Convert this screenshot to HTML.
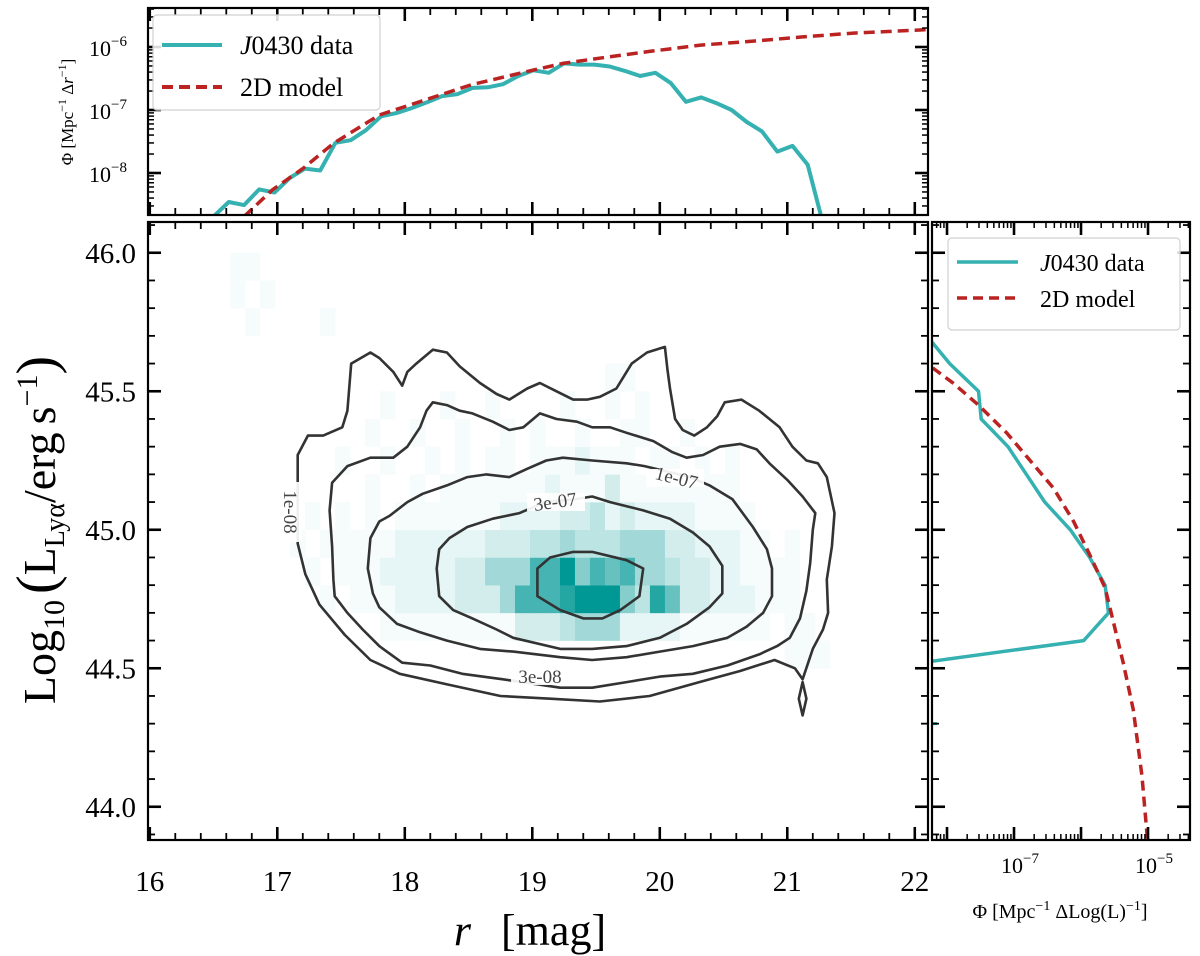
<!DOCTYPE html>
<html><head><meta charset="utf-8">
<style>
html,body{margin:0;padding:0;background:#fff;}
svg{display:block;font-family:"Liberation Serif","DejaVu Serif",serif;}
</style></head>
<body>
<svg id="fig" width="1200" height="956" viewBox="0 0 1200 956" xmlns="http://www.w3.org/2000/svg">
<defs>
<clipPath id="clipMain"><rect x="148" y="222" width="780" height="618"/></clipPath>
<clipPath id="clipTop"><rect x="148" y="8" width="780" height="207"/></clipPath>
<clipPath id="clipRight"><rect x="932" y="222" width="258" height="618"/></clipPath>
</defs>
<g id="heat" clip-path="url(#clipMain)"></g>
<g id="contours" clip-path="url(#clipMain)"></g>
<g id="topLines" clip-path="url(#clipTop)"></g>
<g id="rightLines" clip-path="url(#clipRight)"></g>
<g id="axes"></g>

<g font-size="19" fill="#444">
<text transform="translate(284,512) rotate(90)" text-anchor="middle">1e-08</text>
<text x="540" y="683" text-anchor="middle">3e-08</text>
<text transform="translate(556,508) rotate(-8)" text-anchor="middle">3e-07</text>
<text transform="translate(675,484) rotate(14)" text-anchor="middle">1e-07</text>
</g>

<text x="530" y="945" text-anchor="middle" font-size="44"><tspan font-style="italic">r</tspan><tspan dx="30">[mag]</tspan></text>
<text transform="translate(55,530) rotate(-90)" text-anchor="middle" font-size="46">Log<tspan font-size="30" dy="9">10</tspan><tspan dy="-9" font-size="56" dx="6">(</tspan>L<tspan font-size="28" dy="9">Lyα</tspan><tspan dy="-9">/erg</tspan><tspan dx="8">s</tspan><tspan font-size="30" dy="-18">−1</tspan><tspan dy="18" font-size="56">)</tspan></text>
<text transform="translate(73,112) rotate(-90)" text-anchor="middle" font-size="17">Φ  [Mpc<tspan font-size="12" dy="-7">−1</tspan><tspan dy="7"> Δ</tspan><tspan font-style="italic">r</tspan><tspan font-size="12" dy="-7">−1</tspan><tspan dy="7">]</tspan></text>
<text x="1060" y="918" text-anchor="middle" font-size="20">Φ  [Mpc<tspan font-size="14" dy="-8">−1</tspan><tspan dy="8"> ΔLog(L)</tspan><tspan font-size="14" dy="-8">−1</tspan><tspan dy="8">]</tspan></text>

<g>
<rect x="153" y="15" width="227" height="95" rx="4" fill="#fff" fill-opacity="0.85" stroke="#d0d0d0" stroke-width="1.2"/>
<line x1="162" y1="45" x2="222" y2="45" stroke="#35b1b1" stroke-width="4"/>
<text x="240" y="54" font-size="26"><tspan font-style="italic">J</tspan>0430 data</text>
<line x1="162" y1="87" x2="222" y2="87" stroke="#bb2222" stroke-width="4" stroke-dasharray="11,6"/>
<text x="240" y="96" font-size="26">2D model</text>
</g>
<g>
<rect x="948" y="238" width="232" height="92" rx="4" fill="#fff" fill-opacity="0.85" stroke="#d0d0d0" stroke-width="1.2"/>
<line x1="957" y1="262" x2="1018" y2="262" stroke="#35b1b1" stroke-width="3.5"/>
<text x="1040" y="271" font-size="24"><tspan font-style="italic">J</tspan>0430 data</text>
<line x1="957" y1="298" x2="1018" y2="298" stroke="#bb2222" stroke-width="3.5" stroke-dasharray="10,6"/>
<text x="1040" y="307" font-size="24">2D model</text>
</g>

<script>
const topDataR0 = 16.5, topDataStep = 0.1195;
const topDataLogPhi = [-8.69,-8.46,-8.51,-8.26,-8.31,-8.08,-7.93,-7.96,-7.52,-7.48,-7.32,-7.10,-7.05,-6.97,-6.88,-6.78,-6.75,-6.65,-6.64,-6.59,-6.46,-6.37,-6.41,-6.26,-6.28,-6.28,-6.31,-6.38,-6.46,-6.41,-6.57,-6.87,-6.80,-6.89,-7.00,-7.19,-7.34,-7.66,-7.57,-7.87,-8.80];
const topModelR = [16.74,16.96,17.20,17.44,17.80,18.16,18.52,19.00,19.24,19.52,19.92,20.32,20.72,21.12,21.52,22.04,22.2];
const topModelLogPhi = [-8.69,-8.27,-7.93,-7.53,-7.08,-6.84,-6.60,-6.37,-6.26,-6.18,-6.07,-5.97,-5.91,-5.84,-5.78,-5.73,-5.71];
const rightDataL = [45.7,45.6,45.5,45.4,45.3,45.1,45.0,44.9,44.8,44.7,44.6,44.5];
const rightDataLogPhi = [-8.30,-7.96,-7.53,-7.49,-7.09,-6.54,-6.16,-5.87,-5.64,-5.59,-5.96,-9.0];
const rightStubL = 44.3, rightStubLogPhi = -8.15;
const rightModelL = [45.62,45.58,45.53,45.45,45.35,45.25,45.15,45.03,44.91,44.79,44.67,44.52,44.35,44.11,43.83];
const rightModelLogPhi = [-8.4,-8.19,-7.91,-7.53,-7.11,-6.76,-6.41,-6.11,-5.87,-5.64,-5.52,-5.37,-5.22,-5.09,-4.99];
const heatR0 = 16.630, heatRStep = 0.1176;
const heatL0 = 44.5, heatLStep = 0.1;
const heatRows = [
 [0,0,0,0,0,0,0,0,0,0, 0,0,0,0,0,0,0,0,0,0,0,0,0,0,0,0,0,0,0,0,0,0,0,0,0,0,0,1,1,1,0],
 [0,0,0,0,0,0,0,0,0,0, 1,1,1,1,1,1,1,1,1,3,3,3,4,5,5,5,2,2,2,2,1,1,1,1,1,1,0,1,1,0,0],
 [0,0,0,0,0,0,1,0,1,1, 1,2,2,2,2,3,3,3,5,8,8,8,9,10,10,10,6,4,9,7,3,3,2,2,2,1,1,1,0,0,0],
 [0,0,0,0,0,1,0,1,1,1, 2,2,2,2,2,3,3,5,5,5,8,8,10,6,8,7,8,5,5,4,3,3,2,2,1,1,1,1,0,0,0],
 [0,0,0,0,1,0,1,1,1,1, 1,2,2,2,2,2,2,3,3,3,4,4,5,4,4,4,5,5,5,3,3,2,2,2,1,1,0,1,0,0,0],
 [0,0,0,0,0,1,0,1,0,1, 0,1,1,1,1,1,1,1,2,2,2,2,3,3,4,2,3,2,2,2,2,1,1,1,1,0,0,0,0,0,0],
 [0,0,0,0,0,0,0,0,0,1, 0,0,1,0,1,1,1,1,1,1,1,2,1,1,1,3,1,1,1,1,1,1,1,1,0,0,0,0,0,0,0],
 [0,0,0,0,0,0,0,1,0,0, 1,0,0,1,0,1,0,1,1,0,1,1,1,2,1,1,1,0,1,1,0,1,0,1,0,0,0,0,0,0,0],
 [0,0,0,0,0,0,0,0,0,1, 0,0,1,0,0,1,0,0,1,0,1,0,0,1,0,0,1,1,0,0,1,0,0,0,0,0,0,0,0,0,0],
 [0,0,0,0,0,0,0,0,0,0, 1,0,0,0,1,0,0,1,0,0,0,0,1,0,0,1,0,1,0,0,0,0,0,0,0,0,0,0,0,0,0],
 [0,0,0,0,0,0,0,0,0,0, 0,0,0,0,0,0,0,0,0,0,0,0,0,0,0,1,1,0,0,0,0,0,0,0,0,0,0,0,0,0,0],
 [0,0,0,0,0,0,0,0,0,0, 0,0,0,0,0,0,0,0,0,0,0,0,0,0,0,0,0,0,0,0,0,0,0,0,0,0,0,0,0,0,0],
 [0,1,0,0,0,0,1,0,0,0, 0,0,0,0,0,0,0,0,0,0,0,0,0,0,0,0,0,0,0,0,0,0,0,0,0,0,0,0,0,0,0],
 [1,0,1,0,0,0,0,0,0,0, 0,0,0,0,0,0,0,0,0,0,0,0,0,0,0,0,0,0,0,0,0,0,0,0,0,0,0,0,0,0,0],
 [1,1,0,0,0,0,0,0,0,0, 0,0,0,0,0,0,0,0,0,0,0,0,0,0,0,0,0,0,0,0,0,0,0,0,0,0,0,0,0,0,0]
];
const contour1e08 = [[17.16,44.96],[17.16,45.17],[17.16,45.27],[17.24,45.34],[17.36,45.34],[17.51,45.37],[17.55,45.43],[17.58,45.60],[17.73,45.64],[17.80,45.62],[17.91,45.57],[17.98,45.52],[18.02,45.57],[18.09,45.60],[18.22,45.65],[18.33,45.64],[18.43,45.59],[18.59,45.53],[18.72,45.49],[18.82,45.47],[18.96,45.51],[19.06,45.53],[19.19,45.50],[19.32,45.47],[19.43,45.47],[19.53,45.48],[19.66,45.51],[19.78,45.60],[19.90,45.64],[20.04,45.66],[20.06,45.58],[20.08,45.51],[20.12,45.40],[20.18,45.36],[20.27,45.34],[20.37,45.37],[20.45,45.41],[20.51,45.46],[20.64,45.47],[20.78,45.43],[20.94,45.37],[21.04,45.30],[21.15,45.25],[21.24,45.24],[21.31,45.19],[21.37,45.06],[21.35,44.94],[21.31,44.82],[21.32,44.70],[21.28,44.64],[21.20,44.57],[21.12,44.46],[21.06,44.50],[20.90,44.53],[20.63,44.49],[20.31,44.45],[19.92,44.40],[19.53,44.38],[19.14,44.39],[18.75,44.40],[18.35,44.44],[17.96,44.48],[17.73,44.53],[17.53,44.62],[17.33,44.73],[17.22,44.84],[17.16,44.95]];
const contour3e08 = [[17.43,45.17],[17.55,45.23],[17.73,45.26],[17.91,45.26],[18.02,45.30],[18.12,45.37],[18.17,45.43],[18.22,45.46],[18.33,45.45],[18.43,45.43],[18.53,45.42],[18.69,45.39],[18.82,45.36],[18.93,45.37],[19.06,45.42],[19.19,45.40],[19.35,45.39],[19.47,45.37],[19.61,45.37],[19.74,45.35],[19.95,45.32],[20.10,45.28],[20.21,45.26],[20.34,45.27],[20.47,45.30],[20.63,45.31],[20.76,45.29],[20.86,45.24],[21.00,45.18],[21.12,45.12],[21.22,45.06],[21.20,45.00],[21.18,44.88],[21.15,44.78],[21.10,44.68],[21.02,44.61],[20.92,44.58],[20.78,44.55],[20.53,44.51],[20.26,44.48],[20.00,44.47],[19.74,44.45],[19.47,44.43],[19.22,44.43],[18.77,44.46],[18.45,44.48],[18.20,44.51],[17.98,44.52],[17.80,44.58],[17.67,44.64],[17.55,44.70],[17.45,44.76],[17.44,44.82],[17.43,44.94],[17.41,45.07],[17.43,45.17]];
const contour1e07 = [[17.71,44.86],[17.73,44.97],[17.80,45.03],[17.88,45.05],[18.02,45.10],[18.14,45.13],[18.33,45.16],[18.49,45.19],[18.64,45.20],[18.82,45.19],[18.96,45.22],[19.11,45.25],[19.24,45.26],[19.47,45.25],[19.74,45.24],[19.88,45.23],[20.24,45.19],[20.39,45.16],[20.57,45.11],[20.73,45.01],[20.84,44.93],[20.88,44.86],[20.88,44.76],[20.81,44.70],[20.68,44.65],[20.53,44.61],[20.26,44.58],[20.00,44.56],[19.74,44.54],[19.47,44.53],[19.22,44.54],[18.85,44.56],[18.59,44.57],[18.33,44.60],[18.12,44.63],[17.94,44.66],[17.80,44.72],[17.75,44.77],[17.71,44.86]];
const contour3e07 = [[18.25,44.86],[18.27,44.93],[18.35,44.97],[18.49,45.01],[18.69,45.04],[18.90,45.06],[19.10,45.10],[19.33,45.11],[19.47,45.12],[19.61,45.10],[19.87,45.07],[20.08,45.04],[20.26,44.99],[20.39,44.94],[20.49,44.87],[20.49,44.77],[20.39,44.72],[20.21,44.66],[20.00,44.61],[19.74,44.58],[19.47,44.57],[19.22,44.57],[18.85,44.61],[18.72,44.64],[18.53,44.68],[18.38,44.71],[18.27,44.76],[18.25,44.86]];
const contour1e06 = [[19.04,44.86],[19.14,44.90],[19.32,44.92],[19.47,44.92],[19.74,44.89],[19.87,44.86],[19.84,44.76],[19.69,44.71],[19.55,44.68],[19.40,44.68],[19.22,44.71],[19.04,44.76],[19.04,44.86]];
const contourDrip = [[21.12,44.45],[21.15,44.39],[21.12,44.33],[21.09,44.39],[21.12,44.45]];
const mainXTicks = [16,17,18,19,20,21,22];
const mainYTicks = [44.0,44.5,45.0,45.5,46.0];
const topYDecades = [-8,-7,-6];
const rightXLabels = [-7,-5];

const X = r => 148 + (r - 15.986) * 127.5;
const Ym = L => 840 - (L - 43.88) * 277;
const Yt = lp => 8 + (-5.381 - lp) * 63;
const Xr = lp => 932 + (lp + 8.224) * 67;
const NS = 'http://www.w3.org/2000/svg';
function mk(tag, attrs, parent) {
  const e = document.createElementNS(NS, tag);
  for (const k in attrs) e.setAttribute(k, attrs[k]);
  parent.appendChild(e);
  return e;
}
function powLabel(t, d) {
  const a = mk('tspan', {}, t); a.textContent = '10';
  const b = mk('tspan', {'font-size': 15, dy: -10}, t); b.textContent = '\u2212' + Math.abs(d);
}

const heat = document.getElementById('heat');
heatRows.forEach((row, i) => {
  row.forEach((v, k) => {
    if (!v) return;
    const t = Math.pow(v / 10, 1.45);
    const c = `rgb(${Math.round(255 - t * 255)},${Math.round(255 - t * 103)},${Math.round(255 - t * 107)})`;
    const x0 = X(heatR0 + k * heatRStep), x1 = X(heatR0 + (k + 1) * heatRStep);
    const y0 = Ym(heatL0 + (i + 1) * heatLStep), y1 = Ym(heatL0 + i * heatLStep);
    const r = mk('rect', {x: x0, y: y0, width: x1 - x0 + 0.3, height: y1 - y0 + 0.3, fill: c}, heat);
    
    
  });
});

const cg = document.getElementById('contours');
[['contour-1e-08', contour1e08], ['contour-3e-08', contour3e08], ['contour-1e-07', contour1e07], ['contour-3e-07', contour3e07], ['contour-1e-06', contour1e06], ['contour-1e-08-island', contourDrip]].forEach(([n, pts]) => {
  const d = pts.map((p, i) => (i ? 'L' : 'M') + X(p[0]).toFixed(1) + ',' + Ym(p[1]).toFixed(1)).join('') + 'Z';
  const p = mk('path', {d: d, fill: 'none', stroke: '#333', 'stroke-width': 2.6, 'stroke-linejoin': 'round'}, cg);
  
  
});
[[291,512,22,60],[540,676,58,18],[556,502,58,18],[675,478,58,18]].forEach(b => {
  const r = mk('rect', {x: b[0] - b[2] / 2, y: b[1] - b[3] / 2, width: b[2], height: b[3], fill: 'rgba(255,255,255,0.92)'}, cg);
  
  
});

const tg = document.getElementById('topLines');
const topD = topDataLogPhi.map((v, i) => (i ? 'L' : 'M') + X(topDataR0 + i * topDataStep).toFixed(1) + ',' + Yt(v).toFixed(1)).join('');
const tl = mk('path', {d: topD, fill: 'none', stroke: '#35b1b1', 'stroke-width': 4, 'stroke-linejoin': 'round'}, tg);


const topM = topModelLogPhi.map((v, i) => (i ? 'L' : 'M') + X(topModelR[i]).toFixed(1) + ',' + Yt(v).toFixed(1)).join('');
const tm = mk('path', {d: topM, fill: 'none', stroke: '#bb2222', 'stroke-width': 3.5, 'stroke-dasharray': '11,6'}, tg);



const rg = document.getElementById('rightLines');
const rD = rightDataLogPhi.map((v, i) => (i ? 'L' : 'M') + Xr(v).toFixed(1) + ',' + Ym(rightDataL[i]).toFixed(1)).join('');
const rl = mk('path', {d: rD, fill: 'none', stroke: '#35b1b1', 'stroke-width': 3.5, 'stroke-linejoin': 'round'}, rg);


const stub = mk('line', {x1: Xr(rightStubLogPhi - 0.3), y1: Ym(rightStubL), x2: Xr(rightStubLogPhi), y2: Ym(rightStubL), stroke: '#35b1b1', 'stroke-width': 3}, rg);


const rM = rightModelLogPhi.map((v, i) => (i ? 'L' : 'M') + Xr(v).toFixed(1) + ',' + Ym(rightModelL[i]).toFixed(1)).join('');
const rm = mk('path', {d: rM, fill: 'none', stroke: '#bb2222', 'stroke-width': 3.5, 'stroke-dasharray': '10,6'}, rg);



const ax = document.getElementById('axes');
function frame(x, y, w, h, name) {
  const r = mk('rect', {x: x, y: y, width: w, height: h, fill: 'none', stroke: '#000', 'stroke-width': 2.2}, ax);
  
  
}
frame(148, 222, 780, 618, 'main-frame');
frame(148, 8, 780, 207, 'top-frame');
frame(932, 222, 258, 618, 'right-frame');
function tick(x1, y1, x2, y2, w) {
  const l = mk('line', {x1: x1, y1: y1, x2: x2, y2: y2, stroke: '#000', 'stroke-width': w}, ax);
  
  
}
for (let i = 80; i <= 110; i++) {
  const r = i / 5;
  const major = i % 5 === 0;
  const L = major ? 13 : 7, w = major ? 2.6 : 1.8, x = X(r);
  tick(x, 840, x, 840 - L, w); tick(x, 222, x, 222 + L, w);
  tick(x, 215, x, 215 - L, w); tick(x, 8, x, 8 + L, w);
}
mainXTicks.forEach(v => {
  const t = mk('text', {x: X(v), y: 891, 'text-anchor': 'middle', 'font-size': 29}, ax);
  t.textContent = v;
  
  
});
for (let i = 439; i <= 461; i++) {
  const L = i / 10;
  const major = i % 5 === 0;
  const len = major ? 13 : 7, w = major ? 2.6 : 1.8, y = Ym(L);
  tick(148, y, 148 + len, y, w); tick(928, y, 928 - len, y, w);
  tick(932, y, 932 + len, y, w); tick(1190, y, 1190 - len, y, w);
}
mainYTicks.forEach(v => {
  const t = mk('text', {x: 136, y: Ym(v) + 10, 'text-anchor': 'end', 'font-size': 29}, ax);
  t.textContent = v.toFixed(1);
  
  
});
for (let d = -9; d <= -5; d++) {
  for (let m = 1; m < 10; m++) {
    const lp = d + Math.log10(m), y = Yt(lp);
    if (y < 8 || y > 215) continue;
    const major = m === 1, len = major ? 13 : 6, w = major ? 2.6 : 1.5;
    tick(148, y, 148 + len, y, w); tick(928, y, 928 - len, y, w);
  }
}
topYDecades.forEach(d => {
  const t = mk('text', {x: 108, y: Yt(d) + 9, 'text-anchor': 'middle', 'font-size': 22}, ax);
  
  
  powLabel(t, d);
});
for (let d = -9; d <= -4; d++) {
  for (let m = 1; m < 10; m++) {
    const lp = d + Math.log10(m), x = Xr(lp);
    if (x < 932 || x > 1190) continue;
    const major = m === 1, len = major ? 13 : 6, w = major ? 2.6 : 1.5;
    tick(x, 840, x, 840 - len, w); tick(x, 222, x, 222 + len, w);
  }
}
rightXLabels.forEach(d => {
  const t = mk('text', {x: Xr(d) + 6, y: 873, 'text-anchor': 'middle', 'font-size': 22}, ax);
  
  
  powLabel(t, d);
});
</script>
</svg>
</body></html>
